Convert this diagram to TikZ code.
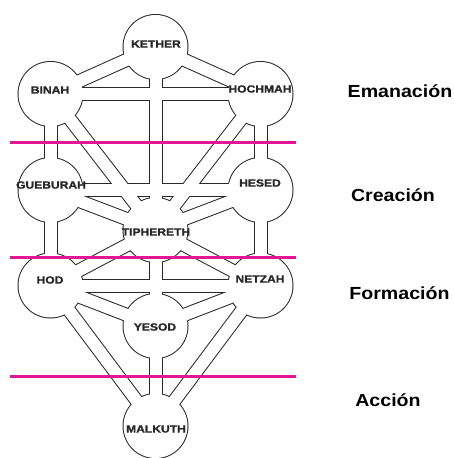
\documentclass[tikz,border=0pt]{standalone}
\usepackage{fontspec}
\newfontfamily\pix[FakeStretch=1.15,FakeBold=1.2]{Liberation Sans Bold}
\newfontfamily\lab[FakeStretch=1.12]{Liberation Sans Bold}
\definecolor{mag}{RGB}{228,22,150}
\definecolor{ink}{RGB}{40,40,40}
\begin{document}
\begin{tikzpicture}[x=1pt,y=-1pt,
  sefname/.style={font=\pix\fontsize{10.5}{10.5}\selectfont, inner sep=0pt, text=ink},
  world/.style={font=\lab\fontsize{17.5}{17.5}\selectfont, text=black, inner sep=0pt},
  bandout/.style={line width=14pt, draw=ink},
  bandin/.style={line width=12pt, draw=white},
  divider/.style={draw=mag, line width=3pt}]
\useasboundingbox (0,0) rectangle (454,458);
\clip (0,0) rectangle (454,458);
\fill[white] (0,0) rectangle (454,458);
% centres of the sefirot
\coordinate (K) at (155.5,47);
\coordinate (B) at (50.5,94);
\coordinate (H) at (260.5,94);
\coordinate (G) at (50.5,190);
\coordinate (C) at (260.5,190);
\coordinate (T) at (155.5,230);
\coordinate (O) at (50.5,285.5);
\coordinate (N) at (260.5,285.5);
\coordinate (Y) at (155.5,326);
\coordinate (M) at (155.5,426);
\def\paths{K/B,K/H,K/T,B/H,B/T,H/T,B/G,H/C,G/C,G/T,C/T,G/O,C/N,T/O,T/N,T/Y,O/N,O/Y,N/Y,O/M,N/M,Y/M}
\def\sefs{K,B,H,G,C,T,O,N,Y,M}
% outline layer
\foreach \a/\b in \paths { \draw[bandout] (\a) -- (\b); }
\foreach \n in \sefs { \fill[ink] (\n) circle (33pt); }
% interior layer
\foreach \a/\b in \paths { \draw[bandin] (\a) -- (\b); }
\foreach \n in \sefs { \fill[white] (\n) circle (32pt); }
% names
\node[sefname] (kether) at (156,44) {KETHER};
\node[sefname] (binah) at (50,90) {BINAH};
\node[sefname] (hochmah) at (260,89) {HOCHMAH};
\node[sefname] (gueburah) at (51,185) {GUEBURAH};
\node[sefname] (hesed) at (260,183) {HESED};
\node[sefname] (tiphereth) at (156,232) {TIPHERETH};
\node[sefname] (hod) at (50,280) {HOD};
\node[sefname] (netzah) at (260,279) {NETZAH};
\node[sefname] (yesod) at (155,327) {YESOD};
\node[sefname] (malkuth) at (156,429) {MALKUTH};
% dividers
\coordinate (d1a) at (10,142.5); \coordinate (d1b) at (296,142.5);
\coordinate (d2a) at (10,257); \coordinate (d2b) at (296,257);
\coordinate (d3a) at (10,376); \coordinate (d3b) at (296,376);
\draw[divider] (d1a) -- (d1b);
\draw[divider] (d2a) -- (d2b);
\draw[divider] (d3a) -- (d3b);
% worlds
\node[world] (ema) at (400,91) {Emanación};
\node[world] (cre) at (393,195) {Creación};
\node[world] (for) at (399.5,293) {Formación};
\node[world] (acc) at (388,400) {Acción};
\end{tikzpicture}
\end{document}
